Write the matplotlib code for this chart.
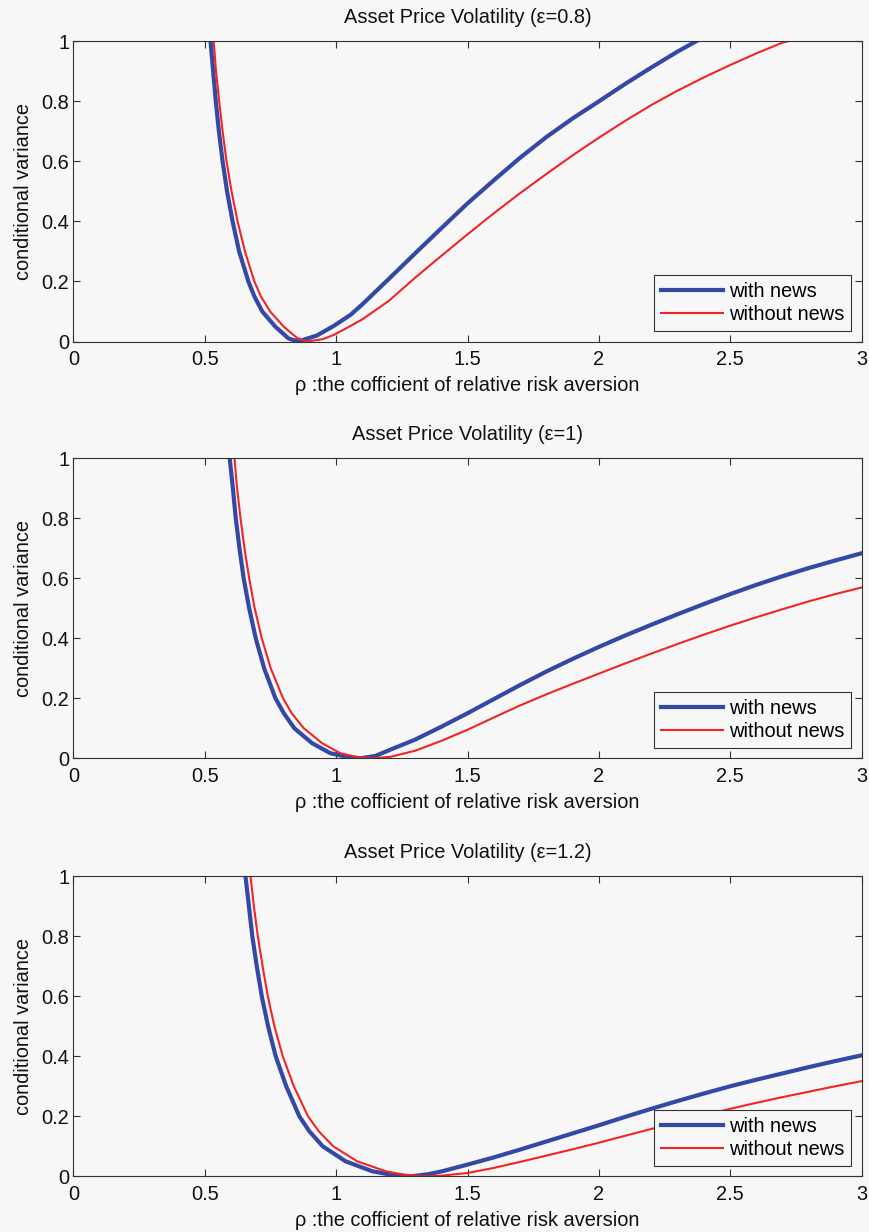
import numpy as np
import matplotlib.pyplot as plt

plt.rcParams['font.family'] = ['Liberation Sans', 'DejaVu Sans']

bg = '#f7f7f7'
blue = '#3448a6'
red = '#f22424'

titles = ['Asset Price Volatility (\u03b5=0.8)',
          'Asset Price Volatility (\u03b5=1)',
          'Asset Price Volatility (\u03b5=1.2)']

# eps = 0.8
x_news_1 = [0.522, 0.532, 0.542, 0.554, 0.568, 0.585, 0.606, 0.631, 0.666, 0.689,
            0.719, 0.768, 0.819, 0.855, 0.927, 0.991, 1.055, 1.1, 1.2, 1.3,
            1.4, 1.5, 1.6, 1.7, 1.8, 1.9, 2.0, 2.1, 2.2, 2.3, 2.37]
y_news_1 = [1.0, 0.9, 0.8, 0.7, 0.6, 0.5, 0.4, 0.3, 0.2, 0.15,
            0.1, 0.05, 0.01, 0.0, 0.02, 0.052, 0.089, 0.124, 0.208, 0.293,
            0.377, 0.46, 0.537, 0.612, 0.681, 0.743, 0.80, 0.858, 0.913, 0.966, 1.0]
x_nonews_1 = [0.534, 0.543, 0.555, 0.568, 0.583, 0.602, 0.625, 0.653, 0.689, 0.714,
              0.749, 0.80, 0.851, 0.889, 0.95, 0.991, 1.055, 1.1, 1.2, 1.3,
              1.4, 1.5, 1.6, 1.7, 1.8, 1.9, 2.0, 2.1, 2.2, 2.3,
              2.4, 2.5, 2.6, 2.7, 2.72]
y_nonews_1 = [1.0, 0.9, 0.8, 0.7, 0.6, 0.5, 0.4, 0.3, 0.2, 0.15,
              0.1, 0.05, 0.012, 0.0, 0.008, 0.022, 0.052, 0.074, 0.135, 0.212,
              0.285, 0.357, 0.427, 0.494, 0.558, 0.62, 0.679, 0.735, 0.788, 0.836,
              0.880, 0.921, 0.960, 0.996, 1.0]

# eps = 1
x_news_2 = [0.595, 0.607, 0.618, 0.632, 0.648, 0.669, 0.694, 0.726, 0.769, 0.801,
            0.841, 0.909, 0.978, 1.04, 1.093, 1.15, 1.207, 1.3, 1.4, 1.5,
            1.6, 1.7, 1.8, 1.9, 2.0, 2.1, 2.2, 2.3, 2.4, 2.5,
            2.6, 2.7, 2.8, 2.9, 3.0]
y_news_2 = [1.0, 0.9, 0.8, 0.7, 0.6, 0.5, 0.4, 0.3, 0.2, 0.15,
            0.1, 0.05, 0.017, 0.005, 0.0, 0.008, 0.029, 0.062, 0.105, 0.150,
            0.197, 0.244, 0.289, 0.331, 0.371, 0.409, 0.445, 0.480, 0.514, 0.547,
            0.578, 0.607, 0.634, 0.659, 0.683]
x_nonews_2 = [0.613, 0.623, 0.636, 0.651, 0.669, 0.690, 0.717, 0.751, 0.798, 0.831,
              0.877, 0.947, 1.016, 1.08, 1.143, 1.207, 1.3, 1.4, 1.5, 1.6,
              1.7, 1.8, 1.9, 2.0, 2.1, 2.2, 2.3, 2.4, 2.5, 2.6,
              2.7, 2.8, 2.9, 3.0]
y_nonews_2 = [1.0, 0.9, 0.8, 0.7, 0.6, 0.5, 0.4, 0.3, 0.2, 0.15,
              0.1, 0.05, 0.017, 0.004, 0.0, 0.005, 0.025, 0.058, 0.095, 0.136,
              0.176, 0.213, 0.248, 0.282, 0.316, 0.349, 0.381, 0.412, 0.442, 0.470,
              0.497, 0.523, 0.547, 0.569]

# eps = 1.2
x_news_3 = [0.655, 0.668, 0.681, 0.698, 0.717, 0.741, 0.770, 0.810, 0.860, 0.898,
            0.949, 1.036, 1.137, 1.21, 1.289, 1.35, 1.4, 1.5, 1.6, 1.7,
            1.8, 1.9, 2.0, 2.1, 2.2, 2.3, 2.4, 2.5, 2.6, 2.7,
            2.8, 2.9, 3.0]
y_news_3 = [1.0, 0.9, 0.8, 0.7, 0.6, 0.5, 0.4, 0.3, 0.2, 0.15,
            0.1, 0.05, 0.017, 0.005, 0.0, 0.007, 0.016, 0.039, 0.063, 0.089,
            0.116, 0.143, 0.170, 0.198, 0.225, 0.251, 0.276, 0.300, 0.322, 0.343,
            0.364, 0.384, 0.403]
x_nonews_3 = [0.674, 0.687, 0.702, 0.720, 0.740, 0.765, 0.797, 0.839, 0.893, 0.934,
              0.989, 1.080, 1.188, 1.26, 1.34, 1.4, 1.5, 1.6, 1.7, 1.8,
              1.9, 2.0, 2.1, 2.2, 2.3, 2.4, 2.5, 2.6, 2.7, 2.8,
              2.9, 3.0]
y_nonews_3 = [1.0, 0.9, 0.8, 0.7, 0.6, 0.5, 0.4, 0.3, 0.2, 0.15,
              0.1, 0.05, 0.017, 0.005, 0.0, 0.002, 0.011, 0.028, 0.048, 0.069,
              0.090, 0.112, 0.135, 0.158, 0.181, 0.203, 0.225, 0.245, 0.264, 0.282,
              0.300, 0.317]

news = [(x_news_1, y_news_1), (x_news_2, y_news_2), (x_news_3, y_news_3)]
nonews = [(x_nonews_1, y_nonews_1), (x_nonews_2, y_nonews_2), (x_nonews_3, y_nonews_3)]

xticks = [0, 0.5, 1, 1.5, 2, 2.5, 3]
xticklabels = ['0', '0.5', '1', '1.5', '2', '2.5', '3']
yticks = [0, 0.2, 0.4, 0.6, 0.8, 1]
yticklabels = ['0', '0.2', '0.4', '0.6', '0.8', '1']

fig = plt.figure(figsize=(8.69, 12.32), dpi=100, facecolor=bg)
bottoms = [0.7228, 0.3845, 0.0452]
fs = 14.4

for i in range(3):
    ax = fig.add_axes([0.0844, bottoms[i], 0.9072, 0.2437])
    ax.set_facecolor(bg)
    ax.plot(news[i][0], news[i][1], color=blue, lw=3, label='with news',
            solid_joinstyle='round')
    ax.plot(nonews[i][0], nonews[i][1], color=red, lw=1.5, label='without news',
            solid_joinstyle='round')
    ax.set_xlim(0, 3)
    ax.set_ylim(0, 1)
    ax.set_xticks(xticks)
    ax.set_xticklabels(xticklabels)
    ax.set_yticks(yticks)
    ax.set_yticklabels(yticklabels)
    ax.tick_params(direction='in', top=True, right=True, length=5, width=0.8,
                   color='#333333', labelsize=fs, labelcolor='#111111')
    ax.tick_params(axis='x', pad=6)
    ax.tick_params(axis='y', pad=3)
    for s in ax.spines.values():
        s.set_color('#333333')
        s.set_linewidth(0.8)
    ax.set_title(titles[i], fontsize=fs, pad=13, color='#111111')
    ax.set_xlabel('\u03c1 :the cofficient of relative risk aversion', fontsize=fs,
                  labelpad=5, color='#111111')
    ax.set_ylabel('conditional variance', fontsize=fs, labelpad=6, color='#111111')
    leg = ax.legend(loc='lower right', bbox_to_anchor=(0.987, 0.035), borderaxespad=0,
                    fontsize=fs, fancybox=False, framealpha=1, facecolor=bg,
                    edgecolor='#333333', handlelength=3.1, handletextpad=0.3,
                    labelspacing=0.2, borderpad=0.35)
    leg.get_frame().set_linewidth(0.8)

fig.savefig('out.png', dpi=100, facecolor=bg)
